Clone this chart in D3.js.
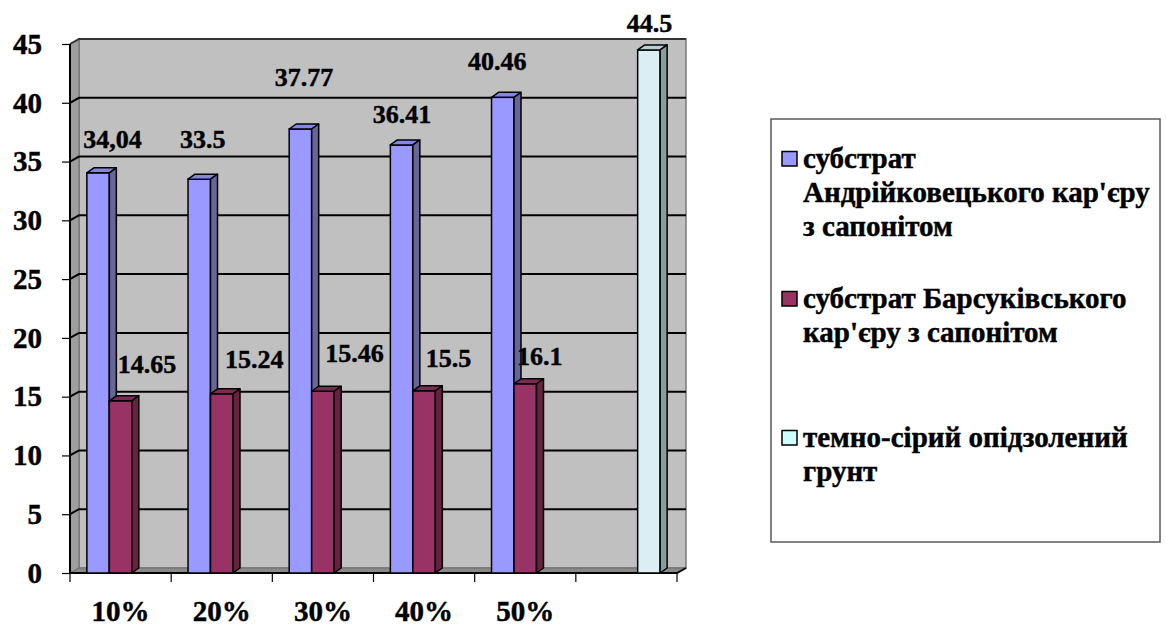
<!DOCTYPE html>
<html>
<head>
<meta charset="utf-8">
<script src="https://cdn.jsdelivr.net/npm/d3@7"></script>
<style>
  body { margin: 0; background: #fff; }
  text { font-family: "Liberation Serif", "Times New Roman", serif; font-weight: bold; fill: #000;
         stroke: #000; stroke-width: 0.45px; }
</style>
</head>
<body>
<svg id="chart" width="1166" height="626"></svg>
<script>
// ---- data ----
const categories = ["10%", "20%", "30%", "40%", "50%", ""];
const seriesKeys = ["andriy", "barsuk", "grunt"];
// value labels as printed on the chart; bar heights are parsed from them
const andriyLabels = ["34,04", "33.5", "37.77", "36.41", "40.46", null];
const barsukLabels = ["14.65", "15.24", "15.46", "15.5", "16.1", null];
const gruntLabels  = [null, null, null, null, null, "44.5"];
const yTickValues = [0, 5, 10, 15, 20, 25, 30, 35, 40, 45];
const legendLines = [
  ["субстрат", "Андрійковецького кар'єру", "з сапонітом"],
  ["субстрат Барсуківського", "кар'єру з сапонітом"],
  ["темно-сірий опідзолений", "грунт"]
];

// ---- styling / layout ----
const colors = {
  andriy: { front: "#9999FF", top: "#8585E6", side: "#666699" },
  barsuk: { front: "#993366", top: "#7D2A53", side: "#66223F" },
  grunt:  { front: "#DAEEF3", top: "#B9CDD2", side: "#8A9C9C" }
};
const legendSwatch = { andriy: "#9999FF", barsuk: "#993366", grunt: "#CCFFFF" };
// per-label nudges [dx, dy] from the top centre of each bar
const labelShift = {
  andriy: [[11, -25], [0, -31], [0, -43], [-3, -22], [-9, -27], null],
  barsuk: [[23, -28], [29, -26], [28, -29], [21, -24], [11, -19], null],
  grunt:  [null, null, null, null, null, [-3, -18]]
};

const X0 = 70, X1 = 677, Y0 = 573, Y1 = 44;
const DX = 9, DY = -5;     // wall depth
const BDX = 7, BDY = -5;   // bar depth

const parse = s => (s == null ? null : +s.replace(",", "."));
const labelsByKey = { andriy: andriyLabels, barsuk: barsukLabels, grunt: gruntLabels };

const svg = d3.select("#chart");

const x = d3.scaleBand().domain(categories).range([X0, X1])
  .paddingInner(1 / 3).paddingOuter(1 / 6);
const xs = d3.scaleBand().domain(seriesKeys).range([0, x.bandwidth()]);
const y = d3.scaleLinear().domain([0, 45]).range([Y0, Y1]);

// ---- walls ----
const g = svg.append("g");
g.append("rect")
  .attr("x", X0 + DX).attr("y", y(45) + DY)
  .attr("width", X1 - X0).attr("height", Y0 - y(45))
  .attr("fill", "#C0C0C0").attr("stroke", "#7A7A7A").attr("stroke-width", 1.5);
g.append("polygon")
  .attr("points", [[X0, y(45)], [X0 + DX, y(45) + DY], [X0 + DX, Y0 + DY], [X0, Y0]].join(" "))
  .attr("fill", "#9E9E9E").attr("stroke", "#6E6E6E").attr("stroke-width", 1);
g.append("polygon")
  .attr("points", [[X0, Y0], [X0 + DX, Y0 + DY], [X1 + DX, Y0 + DY], [X1, Y0]].join(" "))
  .attr("fill", "#8A8A8A").attr("stroke", "#6E6E6E").attr("stroke-width", 1);

// gridlines across the side and back walls
g.selectAll("path.grid").data(yTickValues.filter(v => v > 0)).join("path")
  .attr("class", "grid")
  .attr("d", v => `M${X0},${y(v)}L${X0 + DX},${y(v) + DY}L${X1 + DX},${y(v) + DY}`)
  .attr("fill", "none")
  .attr("stroke", v => (v === 45 ? "#333" : "#000"))
  .attr("stroke-width", 2);

// ---- axes ----
const yAxis = d3.axisLeft(y).tickValues(yTickValues).tickSize(8).tickPadding(20);
const ya = svg.append("g").attr("transform", `translate(${X0},0)`).call(yAxis);
ya.attr("font-family", null).attr("font-size", null);
ya.select(".domain").remove();
ya.selectAll(".tick line").attr("stroke", "#000").attr("stroke-width", 1.2);
ya.selectAll(".tick text").attr("font-size", 29).attr("fill", "#000");

svg.append("line").attr("x1", X0).attr("x2", X0).attr("y1", y(45)).attr("y2", Y0)
  .attr("stroke", "#000").attr("stroke-width", 2);
svg.append("path")
  .attr("d", `M${X0},${Y0}L${X1},${Y0}L${X1 + DX},${Y0 + DY}`)
  .attr("fill", "none").attr("stroke", "#000").attr("stroke-width", 2);

// category boundary ticks
const boundaries = d3.range(categories.length + 1).map(i => X0 + i * x.step());
svg.selectAll("line.xtick").data(boundaries).join("line")
  .attr("class", "xtick")
  .attr("x1", d => d).attr("x2", d => d)
  .attr("y1", Y0).attr("y2", Y0 + 9)
  .attr("stroke", "#000").attr("stroke-width", 1.2);

svg.selectAll("text.xlab").data(categories).join("text")
  .attr("class", "xlab")
  .attr("x", d => x(d) + x.bandwidth() / 2)
  .attr("y", 621)
  .attr("text-anchor", "middle")
  .attr("font-size", 29)
  .text(d => d);

// ---- 3D bars ----
const barData = [];
seriesKeys.forEach(k => {
  labelsByKey[k].forEach((lab, i) => {
    if (lab == null) return;
    barData.push({ key: k, cat: categories[i], i, label: lab, value: parse(lab) });
  });
});

const bars = svg.append("g").selectAll("g.bar").data(barData).join("g").attr("class", "bar");
const w = xs.bandwidth();
bars.each(function (d) {
  const el = d3.select(this);
  const bx = x(d.cat) + xs(d.key);
  const top = y(d.value);
  const c = colors[d.key];
  el.append("rect")
    .attr("x", bx).attr("y", top).attr("width", w).attr("height", Y0 - top)
    .attr("fill", c.front).attr("stroke", "#000").attr("stroke-width", 1.5);
  el.append("polygon")
    .attr("points", [[bx, top], [bx + BDX, top + BDY], [bx + w + BDX, top + BDY], [bx + w, top]].join(" "))
    .attr("fill", c.top).attr("stroke", "#000").attr("stroke-width", 1.5).attr("stroke-linejoin", "round");
  el.append("polygon")
    .attr("points", [[bx + w, top], [bx + w + BDX, top + BDY], [bx + w + BDX, Y0 + BDY], [bx + w, Y0]].join(" "))
    .attr("fill", c.side).attr("stroke", "#000").attr("stroke-width", 1.5).attr("stroke-linejoin", "round");
});

// ---- value labels ----
svg.append("g").selectAll("text").data(barData).join("text")
  .attr("x", d => x(d.cat) + xs(d.key) + w / 2 + BDX / 2 + labelShift[d.key][d.i][0])
  .attr("y", d => y(d.value) + labelShift[d.key][d.i][1])
  .attr("text-anchor", "middle")
  .attr("font-size", 26)
  .text(d => d.label);

// ---- legend ----
const lg = svg.append("g");
lg.append("rect").attr("x", 771).attr("y", 119).attr("width", 389).attr("height", 423)
  .attr("fill", "#fff").attr("stroke", "#5A5A5A").attr("stroke-width", 1.5);
const itemBaselines = [168, 308, 447];
const lineH = 34;
seriesKeys.forEach((k, j) => {
  const b = itemBaselines[j];
  lg.append("rect").attr("x", 782).attr("y", b - 16.5).attr("width", 15).attr("height", 14.5)
    .attr("fill", legendSwatch[k]).attr("stroke", "#000").attr("stroke-width", 1.5);
  const t = lg.append("text").attr("x", 803).attr("y", b).attr("font-size", 29);
  legendLines[j].forEach((line, li) => {
    t.append("tspan").attr("x", 803).attr("y", b + li * lineH).text(line);
  });
});
</script>
</body>
</html>
